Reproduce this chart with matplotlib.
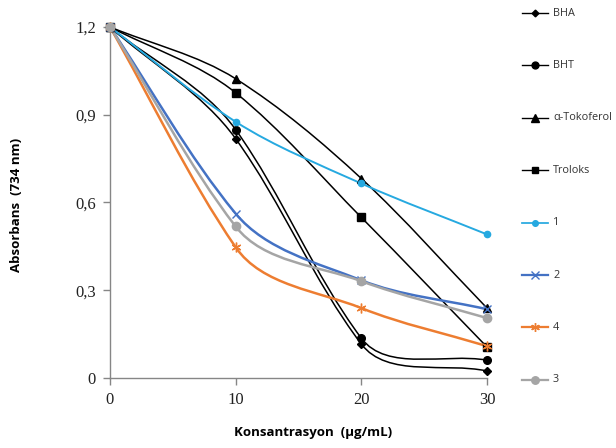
import numpy as np
import matplotlib
matplotlib.use('Agg')
import matplotlib.pyplot as plt
from matplotlib.path import Path
from matplotlib.patches import PathPatch
from matplotlib.lines import Line2D

# Data
konsantrasyon = [0, 10, 20, 30]
bha = [1.2, 0.818, 0.116, 0.024]
bht = [1.2, 0.849, 0.136, 0.061]
tokoferol = [1.2, 1.023, 0.682, 0.239]
troloks = [1.2, 0.975, 0.549, 0.106]
s1 = [1.2, 0.876, 0.665, 0.491]
s2 = [1.2, 0.562, 0.334, 0.235]
s4 = [1.2, 0.447, 0.239, 0.109]
s3 = [1.2, 0.518, 0.331, 0.205]

# name, values, colour, marker, marker size, line width
series = [
    ('BHA', bha, 'black', 'D', 3.8, 1.1),
    ('BHT', bht, 'black', 'o', 5.5, 1.1),
    ('α-Tokoferol', tokoferol, 'black', '^', 6, 1.1),
    ('Troloks', troloks, 'black', 's', 5.5, 1.1),
    ('1', s1, '#26A9E0', 'o', 4.5, 1.4),
    ('2', s2, '#4472C4', 'x', 6, 1.8),
    ('4', s4, '#ED7D31', (6, 2, 0), 7, 1.8),
    ('3', s3, '#A5A5A5', 'o', 6, 1.8),
]


def smooth_path(ax, x, y, power=3.0):
    # smoothed line in display space, tangents lean toward the longer neighbour segment
    pts = ax.transData.transform(np.column_stack([x, y]))
    n = len(pts)
    seg = pts[1:] - pts[:-1]
    lens = np.hypot(seg[:, 0], seg[:, 1])
    units = seg / lens[:, None]
    tang = np.zeros_like(pts)
    tang[0] = units[0]
    tang[-1] = units[-1]
    for i in range(1, n - 1):
        w0 = lens[i - 1] ** power
        w1 = lens[i] ** power
        t = w0 * units[i - 1] + w1 * units[i]
        tang[i] = t / np.hypot(*t)
    verts = [pts[0]]
    codes = [Path.MOVETO]
    for i in range(n - 1):
        h = lens[i] / 3.0
        verts += [pts[i] + tang[i] * h, pts[i + 1] - tang[i + 1] * h, pts[i + 1]]
        codes += [Path.CURVE4] * 3
    return Path(verts, codes)


fig = plt.figure(figsize=(6.16, 4.48), dpi=100)
ax = fig.add_axes([110 / 616, 70 / 448, 377 / 616, 351 / 448])
ax.set_xlim(0, 30)
ax.set_ylim(0, 1.2)

for i, (name, vals, col, mk, ms, lw) in enumerate(series):
    path = smooth_path(ax, konsantrasyon, vals)
    patch = PathPatch(path, facecolor='none', edgecolor=col, lw=lw,
                      transform=None, clip_on=False, zorder=2)
    ax.add_artist(patch)
    ax.plot(konsantrasyon, vals, linestyle='none', marker=mk, markersize=ms,
            color=col, markeredgewidth=1.0, clip_on=False, zorder=3)

    # legend entry on the right, one row every ~52 px
    ly = 1 - (13 + i * 52.4) / 448
    fig.add_artist(Line2D([522 / 616, 548 / 616], [ly, ly], color=col, lw=lw * 0.9))
    fig.add_artist(Line2D([535 / 616], [ly], color=col, marker=mk, markersize=ms * 0.9,
                          markeredgewidth=1.0, linestyle='none'))
    fig.text(553 / 616, ly, name, ha='left', va='center', fontsize=7.8,
             fontfamily='Open Sans', color='#333333')

for s in ['top', 'right']:
    ax.spines[s].set_visible(False)
for s in ['left', 'bottom']:
    ax.spines[s].set_color('#868686')
    ax.spines[s].set_linewidth(1.0)

ax.set_xticks([0, 10, 20, 30])
ax.set_yticks([0, 0.3, 0.6, 0.9, 1.2])
ax.set_yticklabels(['0', '0,3', '0,6', '0,9', '1,2'])
ax.tick_params(direction='out', length=5, color='#868686', width=1.0,
               labelsize=12, labelcolor='#222222', pad=5)
for lab in ax.get_xticklabels() + ax.get_yticklabels():
    lab.set_fontfamily('Liberation Serif')

fig.text(313 / 616, 1 - 432 / 448, 'Konsantrasyon  (µg/mL)', ha='center', va='center',
         fontsize=9.5, fontweight='bold', fontfamily='Open Sans')
fig.text(17 / 616, 1 - 205 / 448, 'Absorbans  (734 nm)', ha='center', va='center',
         rotation=90, fontsize=9.5, fontweight='bold', fontfamily='Open Sans')

fig.savefig('out.png', dpi=100)
